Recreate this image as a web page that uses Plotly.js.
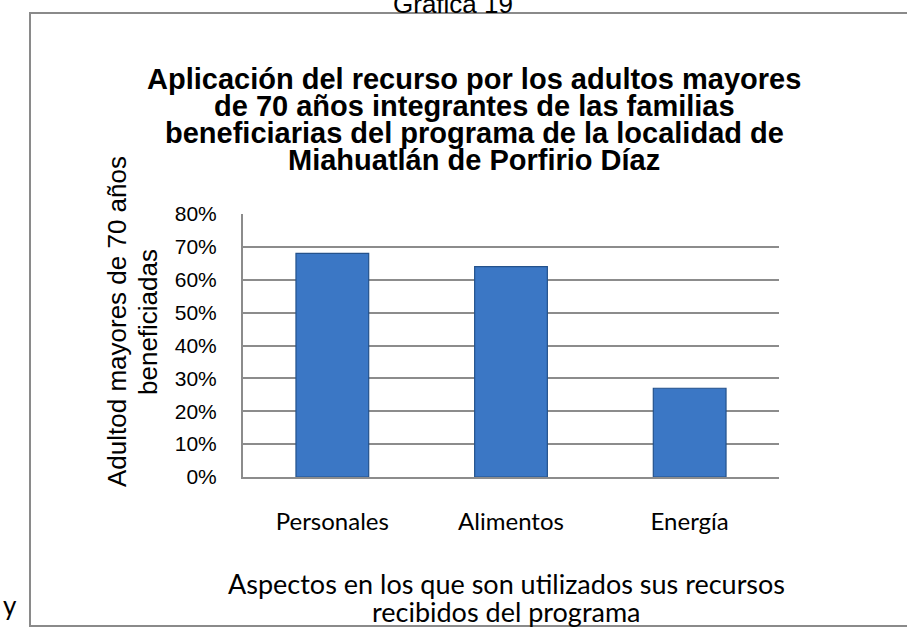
<!DOCTYPE html>
<html>
<head>
<meta charset="utf-8">
<script src="https://cdn.plot.ly/plotly-3.0.1.min.js"></script>
<style>
html,body{margin:0;padding:0;background:#fff;}
#chart{width:907px;height:627px;}
</style>
</head>
<body>
<div id="chart"></div>
<script>
// Data
const categories = ["Personales", "Alimentos", "Energía"];
const values = [0.68, 0.64, 0.27];
const yTickVals = [0, 0.1, 0.2, 0.3, 0.4, 0.5, 0.6, 0.7, 0.8];
const yTickText = ["0%", "10%", "20%", "30%", "40%", "50%", "60%", "70%", "80%"];
const titleLines = [
  "Aplicación del recurso por los adultos mayores",
  "de 70 años integrantes de las familias",
  "beneficiarias del programa de la localidad de",
  "Miahuatlán de Porfirio Díaz"
];
const yTitleLines = ["Adultod mayores de 70 años", "beneficiadas"];
const xTitleLines = ["Aspectos en los que son utilizados sus recursos", "recibidos del programa"];
const pageTitle = "Gráfica 19";

// Layout helpers (pixel -> paper)
const L = 243, R = 779, T = 214, B = 477;
const W = 907, H = 627;
const px = x => (x - L) / (R - L);
const py = y => (B - y) / (B - T);

const annotations = [];
const titleY = [79, 106, 133, 160];
titleLines.forEach((t, i) => annotations.push({
  text: "<b>" + t + "</b>", xref: "paper", yref: "paper",
  x: px(474), y: py(titleY[i]), xanchor: "center", yanchor: "middle",
  showarrow: false, font: {family: "Liberation Sans, Arial, sans-serif", size: 29, color: "#000"}
}));
const yTitleX = [117, 148];
yTitleLines.forEach((t, i) => annotations.push({
  text: t, xref: "paper", yref: "paper", textangle: -90,
  x: px(yTitleX[i]), y: py(322), xanchor: "center", yanchor: "middle",
  showarrow: false, font: {family: "Liberation Sans, Arial, sans-serif", size: 26, color: "#000"}
}));
const xTitleY = [583, 611];
xTitleLines.forEach((t, i) => annotations.push({
  text: t, xref: "paper", yref: "paper",
  x: px(506), y: py(xTitleY[i]), xanchor: "center", yanchor: "middle",
  showarrow: false, font: {family: "Lato, Carlito, Calibri, sans-serif", size: 27, color: "#000"}
}));
annotations.push({
  text: pageTitle, xref: "paper", yref: "paper",
  x: px(453), y: py(4), xanchor: "center", yanchor: "middle",
  showarrow: false, font: {family: "Liberation Sans, Arial, sans-serif", size: 26, color: "#000"}
});
annotations.push({
  text: "y", xref: "paper", yref: "paper",
  x: px(10), y: py(605), xanchor: "center", yanchor: "middle",
  showarrow: false, font: {family: "Lato, Carlito, Calibri, sans-serif", size: 26, color: "#000"}
});

const data = [{
  type: "bar",
  x: categories,
  y: values,
  marker: {
    color: "#3b77c5",
    line: {color: "#24528c", width: 1.2}
  },
  hoverinfo: "none"
}];

const layout = {
  width: W, height: H,
  margin: {l: L, r: W - R, t: T, b: H - B, pad: 0},
  paper_bgcolor: "#fff",
  plot_bgcolor: "#fff",
  showlegend: false,
  bargap: 0.593,
  xaxis: {
    type: "category",
    showgrid: false,
    showline: true, linecolor: "#8c8c8c", linewidth: 2,
    ticks: "", ticklabelstandoff: 22,
    tickfont: {family: "Lato, Carlito, Calibri, sans-serif", size: 24, color: "#000"},
    fixedrange: true
  },
  yaxis: {
    range: [0, 0.8],
    tickvals: yTickVals, ticktext: yTickText,
    showgrid: true, gridcolor: "#8c8c8c", gridwidth: 2,
    showline: true, linecolor: "#8c8c8c", linewidth: 2,
    zeroline: false,
    ticks: "", ticklabelstandoff: 20,
    tickfont: {family: "Liberation Sans, Arial, sans-serif", size: 21, color: "#000"},
    fixedrange: true
  },
  shapes: [{
    type: "rect", xref: "paper", yref: "paper",
    x0: px(30), x1: px(912), y0: py(626), y1: py(13),
    line: {color: "#8a8a8a", width: 2}, fillcolor: "rgba(0,0,0,0)", layer: "below"
  }],
  annotations: annotations
};

Plotly.newPlot("chart", data, layout, {displayModeBar: false, staticPlot: true});
</script>
</body>
</html>
